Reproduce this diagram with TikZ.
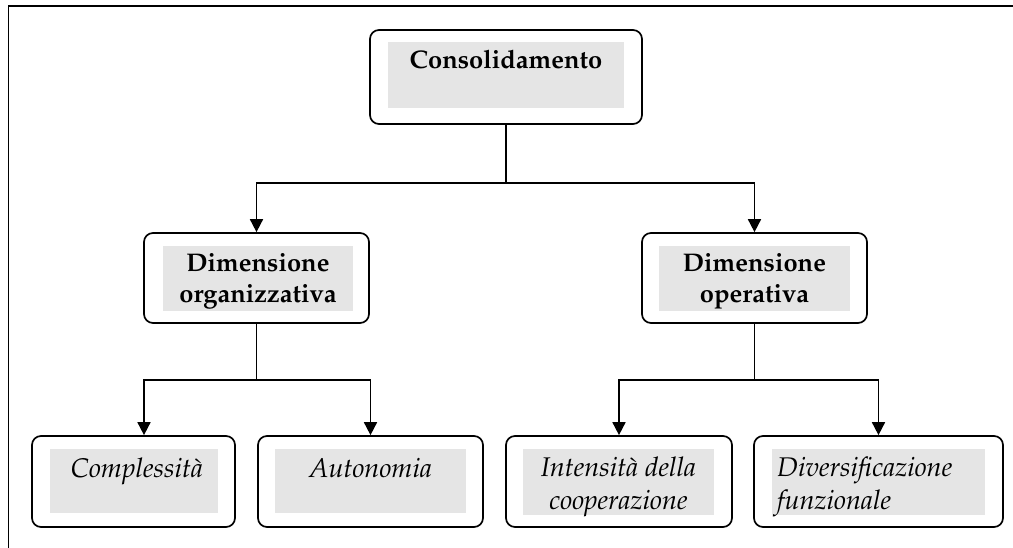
\documentclass[tikz,border=0pt]{standalone}
\usepackage[T1]{fontenc}
\usepackage{mathpazo}
\usetikzlibrary{arrows.meta, positioning}

\tikzset{
  box/.style={draw, line width=1.7pt, rounded corners=9pt, fill=white, inner sep=0pt},
  pane/.style={fill=gray!20, inner sep=0pt},
  txt/.style={anchor=north, inner sep=0pt, align=center},
  txtb/.style={txt, font=\fontsize{25.5}{31}\selectfont\bfseries},
  txti/.style={txt, font=\fontsize{27}{33}\selectfont\itshape},
  link/.style={line width=1.7pt},
  arr/.style={link, -{Triangle[width=13pt,length=13pt]}}
}

\begin{document}
\begin{tikzpicture}[x=1pt, y=-1pt]
\useasboundingbox (0,0) rectangle (1013,548);

% frame (only top and left edges show)
\draw[line width=1.5pt] (8.5,548) -- (8.5,6) -- (1013,6);

% top
\node[box, minimum width=272, minimum height=94] (cons) at (506,77) {};
\node[pane, minimum width=236, minimum height=66] (cons-p) at (506,75) {};
\node[txtb] (cons-l) at ([yshift=-8pt]cons-p.north) {Consolidamento};

% second level
\node[box, minimum width=225, minimum height=90] (org) at (256.5,278) {};
\node[pane, minimum width=190, minimum height=65] (org-p) at (258,278.5) {};
\node[txtb] (org-l) at ([yshift=-8pt]org-p.north) {Dimensione\\organizzativa};

\node[box, minimum width=225, minimum height=90] (ope) at (754.5,278) {};
\node[pane, minimum width=191, minimum height=65] (ope-p) at (754.5,278.5) {};
\node[txtb] (ope-l) at ([yshift=-8pt]ope-p.north) {Dimensione\\operativa};

% third level
\node[box, minimum width=203, minimum height=91] (compl) at (133.5,481.5) {};
\node[pane, minimum width=168, minimum height=64] (compl-p) at (134,481) {};
\node[txti] (compl-l) at ([xshift=3pt,yshift=-9pt]compl-p.north) {Complessit\`a};

\node[box, minimum width=225, minimum height=91] (auton) at (370.5,481.5) {};
\node[pane, minimum width=191, minimum height=64] (auton-p) at (370.5,481) {};
\node[txti] (auton-l) at ([yshift=-9pt]auton-p.north) {Autonomia};

\node[box, minimum width=226, minimum height=91] (inten) at (619,481.5) {};
\node[pane, minimum width=191, minimum height=66] (inten-p) at (618.5,482) {};
\node[txti] (inten-l) at ([yshift=-8pt]inten-p.north) {Intensit\`a della\\cooperazione};

\node[box, minimum width=249, minimum height=91] (diver) at (878.5,481.5) {};
\node[pane, minimum width=213, minimum height=66] (diver-p) at (878.5,482) {};
\node[txti, anchor=north west, align=left] (diver-l) at ([xshift=5pt,yshift=-8pt]diver-p.north west) {Diversificazione\\funzionale};

% connectors
\coordinate (j0) at (506,183);
\draw[link] (cons.south) -- (j0);
\draw[arr] (j0) -| (org.north);
\draw[arr] (j0) -| (ope.north);

\coordinate (j1) at (256.5,380);
\draw[link] (org.south) -- (j1);
\draw[arr] (j1) -| ([xshift=10.5pt]compl.north);
\draw[arr] (j1) -| (auton.north);

\coordinate (j2) at (754.5,380);
\draw[link] (ope.south) -- (j2);
\draw[arr] (j2) -| (inten.north);
\draw[arr] (j2) -| (diver.north);
\end{tikzpicture}
\end{document}
